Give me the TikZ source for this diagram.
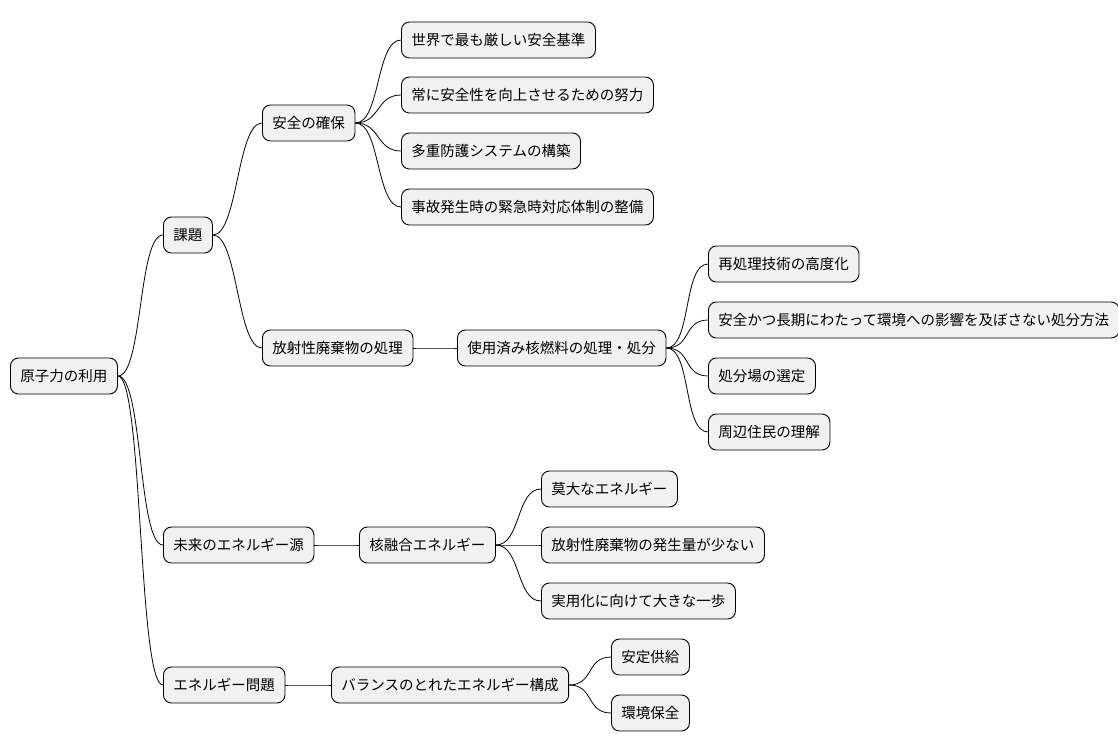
\documentclass[tikz,border=0pt]{standalone}
\usepackage{fontspec}
\setmainfont{Noto Sans CJK JP}
\definecolor{boxgray}{HTML}{F1F1F1}
\tikzset{
  box/.style={draw, line width=0.9pt, rounded corners=8pt, fill=boxgray, minimum height=36pt, inner xsep=10pt, anchor=west, font=\fontsize{14.5}{16}\selectfont},
  link/.style={draw, line width=0.8pt}
}
\begin{document}
\begin{tikzpicture}[x=1pt, y=-1pt]
\useasboundingbox (0,0) rectangle (1118,752);
\node[box] (root) at (10,376) {原子力の利用};
\node[box] (kadai) at (163,235) {課題};
\node[box] (anzen) at (262,123) {安全の確保};
\node[box] (a1) at (401,40) {世界で最も厳しい安全基準};
\node[box] (a2) at (401,95) {常に安全性を向上させるための努力};
\node[box] (a3) at (401,151) {多重防護システムの構築};
\node[box] (a4) at (401,207) {事故発生時の緊急時対応体制の整備};
\node[box] (haiki) at (262,348) {放射性廃棄物の処理};
\node[box] (nenryo) at (457,348) {使用済み核燃料の処理・処分};
\node[box] (n1) at (708,264) {再処理技術の高度化};
\node[box] (n2) at (708,320) {安全かつ長期にわたって環境への影響を及ぼさない処分方法};
\node[box] (n3) at (708,376) {処分場の選定};
\node[box] (n4) at (708,432) {周辺住民の理解};
\node[box] (mirai) at (163,545) {未来のエネルギー源};
\node[box] (yugo) at (359,545) {核融合エネルギー};
\node[box] (y1) at (541,489) {莫大なエネルギー};
\node[box] (y2) at (541,545) {放射性廃棄物の発生量が少ない};
\node[box] (y3) at (541,601) {実用化に向けて大きな一歩};
\node[box] (mondai) at (163,685) {エネルギー問題};
\node[box] (balance) at (331,685) {バランスのとれたエネルギー構成};
\node[box] (b1) at (611,657) {安定供給};
\node[box] (b2) at (611,713) {環境保全};
% connectors
\foreach \p/\c in {root/kadai,root/mirai,root/mondai,kadai/anzen,kadai/haiki,
  anzen/a1,anzen/a2,anzen/a3,anzen/a4,haiki/nenryo,nenryo/n1,nenryo/n2,nenryo/n3,nenryo/n4,
  mirai/yugo,yugo/y1,yugo/y2,yugo/y3,mondai/balance,balance/b1,balance/b2}
  \draw[link] (\p.east) .. controls +(25,0) and +(-25,0) .. (\c.west);
\end{tikzpicture}
\end{document}
